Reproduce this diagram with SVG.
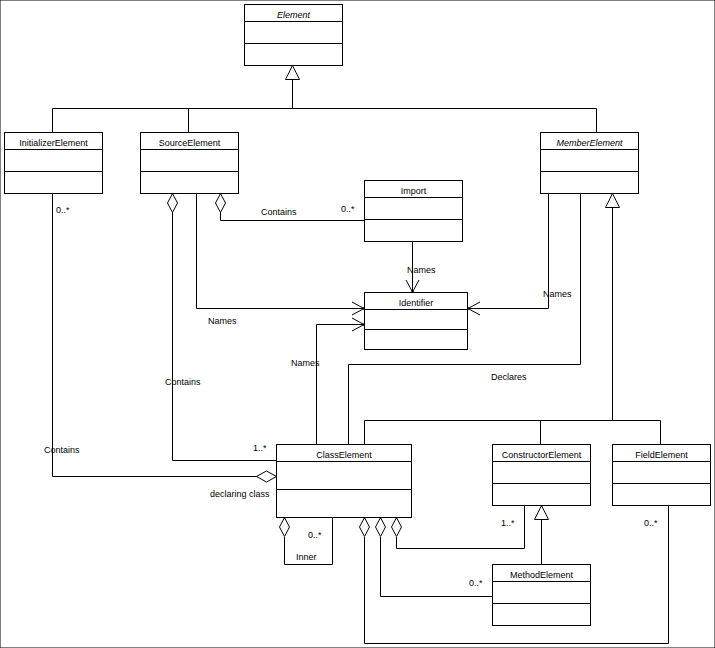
<svg xmlns="http://www.w3.org/2000/svg" width="715" height="648" viewBox="0 0 715 648">
<style>
rect{fill:#fff;stroke:#000;stroke-width:1}
line,path,polyline{fill:none;stroke:#000;stroke-width:1}
.d{fill:#fff;stroke:#000}
.dot{fill:#000;stroke:none}
text{font-family:"Liberation Sans",Arial,sans-serif;font-size:9px;fill:#000}
.n{text-anchor:middle}
.i{font-style:italic}
</style>
<rect width="715" height="648" fill="#fff" stroke="none"/>
<g id="connectors">
  <!-- generalization to Element -->
  <polyline points="292.5,79 292.5,108.5"/>
  <polyline points="52.5,132 52.5,108.5 596.5,108.5 596.5,132"/>
  <polyline points="188.5,108.5 188.5,132"/>
  <path class="d" d="M292.5,65.5 L299.5,79.5 L285.5,79.5 Z"/>
  <!-- generalization to MemberElement -->
  <polyline points="612.5,207 612.5,420.5"/>
  <polyline points="364.5,444 364.5,420.5 660.5,420.5 660.5,444"/>
  <polyline points="540.5,420.5 540.5,444"/>
  <path class="d" d="M612.5,193.5 L619.5,207.5 L605.5,207.5 Z"/>
  <!-- Method -> Constructor -->
  <polyline points="541.5,519 541.5,564"/>
  <path class="d" d="M541.5,505.5 L548.5,519.5 L534.5,519.5 Z"/>
  <!-- Initializer contains ClassElement -->
  <polyline points="52.5,193 52.5,476.5 257,476.5"/>
  <path class="d" d="M276.5,476.5 L266.5,471 L256.5,476.5 L266.5,482 Z"/>
  <!-- Source contains ClassElement -->
  <polyline points="172.5,212 172.5,460.5 276,460.5"/>
  <path class="d" d="M172.5,193.5 L177.5,203 L172.5,212.5 L167.5,203 Z"/>
  <!-- Source contains Import -->
  <polyline points="220.5,212 220.5,220.5 364,220.5"/>
  <path class="d" d="M220.5,193.5 L225.5,203 L220.5,212.5 L215.5,203 Z"/>
  <!-- Source names Identifier -->
  <polyline points="196.5,193 196.5,308.5 364,308.5"/>
  <path d="M364,308.5 L352,302 M364,308.5 L352,315"/>
  <circle class="dot" cx="364" cy="308.5" r="1.3"/>
  <!-- Import names Identifier -->
  <polyline points="412.5,241 412.5,292"/>
  <path d="M412.5,292 L406,280 M412.5,292 L419,280"/>
  <circle class="dot" cx="412.5" cy="292" r="1.3"/>
  <!-- MemberElement names Identifier -->
  <polyline points="548.5,193 548.5,308.5 468,308.5"/>
  <path d="M468,308.5 L480,302 M468,308.5 L480,315"/>
  <circle class="dot" cx="468" cy="308.5" r="1.3"/>
  <!-- ClassElement names Identifier -->
  <polyline points="316.5,444 316.5,324.5 364,324.5"/>
  <path d="M364,324.5 L352,318 M364,324.5 L352,331"/>
  <circle class="dot" cx="364" cy="324.5" r="1.3"/>
  <!-- Declares -->
  <polyline points="348.5,444 348.5,364.5 580.5,364.5 580.5,193"/>
  <!-- Inner -->
  <polyline points="284.5,537 284.5,564.5 332.5,564.5 332.5,517"/>
  <path class="d" d="M284.5,517.5 L289.5,527 L284.5,536.5 L279.5,527 Z"/>
  <!-- ClassElement aggregations -->
  <polyline points="396.5,537 396.5,548.5 524.5,548.5 524.5,505"/>
  <path class="d" d="M396.5,517.5 L401.5,527 L396.5,536.5 L391.5,527 Z"/>
  <polyline points="380.5,537 380.5,596.5 492,596.5"/>
  <path class="d" d="M380.5,517.5 L385.5,527 L380.5,536.5 L375.5,527 Z"/>
  <polyline points="364.5,537 364.5,643.5 668.5,643.5 668.5,505"/>
  <path class="d" d="M364.5,517.5 L369.5,527 L364.5,536.5 L359.5,527 Z"/>
  <!-- labels -->
  <text x="56" y="213">0..*</text>
  <text x="44" y="453">Contains</text>
  <text x="210" y="497">declaring class</text>
  <text x="165" y="385">Contains</text>
  <text x="253" y="451">1..*</text>
  <text x="261" y="215">Contains</text>
  <text x="341" y="212">0..*</text>
  <text x="208" y="324">Names</text>
  <text x="407" y="273">Names</text>
  <text x="543" y="297">Names</text>
  <text x="291" y="366">Names</text>
  <text x="491" y="380">Declares</text>
  <text x="308" y="538">0..*</text>
  <text x="296" y="560">Inner</text>
  <text x="501" y="526">1..*</text>
  <text x="469" y="586">0..*</text>
  <text x="644" y="526">0..*</text>
</g>
<g id="Element">
  <rect x="244.5" y="4.5" width="98" height="61"/>
  <line x1="244.5" y1="21.5" x2="342.5" y2="21.5"/>
  <line x1="244.5" y1="43.5" x2="342.5" y2="43.5"/>
  <text class="n i" x="293.5" y="18">Element</text>
</g>
<g id="InitializerElement">
  <rect x="4.5" y="132.5" width="98" height="61"/>
  <line x1="4.5" y1="149.5" x2="102.5" y2="149.5"/>
  <line x1="4.5" y1="171.5" x2="102.5" y2="171.5"/>
  <text class="n" x="53.5" y="146">InitializerElement</text>
</g>
<g id="SourceElement">
  <rect x="140.5" y="132.5" width="98" height="61"/>
  <line x1="140.5" y1="149.5" x2="238.5" y2="149.5"/>
  <line x1="140.5" y1="171.5" x2="238.5" y2="171.5"/>
  <text class="n" x="189.5" y="146">SourceElement</text>
</g>
<g id="MemberElement">
  <rect x="540.5" y="132.5" width="98" height="61"/>
  <line x1="540.5" y1="149.5" x2="638.5" y2="149.5"/>
  <line x1="540.5" y1="171.5" x2="638.5" y2="171.5"/>
  <text class="n i" x="589.5" y="146">MemberElement</text>
</g>
<g id="Import">
  <rect x="364.5" y="180.5" width="98" height="61"/>
  <line x1="364.5" y1="197.5" x2="462.5" y2="197.5"/>
  <line x1="364.5" y1="219.5" x2="462.5" y2="219.5"/>
  <text class="n" x="413.5" y="194">Import</text>
</g>
<g id="Identifier">
  <rect x="364.5" y="292.5" width="103" height="57"/>
  <line x1="364.5" y1="309.5" x2="467.5" y2="309.5"/>
  <line x1="364.5" y1="329.5" x2="467.5" y2="329.5"/>
  <text class="n" x="416" y="306">Identifier</text>
</g>
<g id="ClassElement">
  <rect x="276.5" y="444.5" width="135" height="73"/>
  <line x1="276.5" y1="461.5" x2="411.5" y2="461.5"/>
  <line x1="276.5" y1="489.5" x2="411.5" y2="489.5"/>
  <text class="n" x="344" y="458">ClassElement</text>
</g>
<g id="ConstructorElement">
  <rect x="492.5" y="444.5" width="98" height="61"/>
  <line x1="492.5" y1="461.5" x2="590.5" y2="461.5"/>
  <line x1="492.5" y1="483.5" x2="590.5" y2="483.5"/>
  <text class="n" x="541.5" y="458">ConstructorElement</text>
</g>
<g id="FieldElement">
  <rect x="612.5" y="444.5" width="98" height="61"/>
  <line x1="612.5" y1="461.5" x2="710.5" y2="461.5"/>
  <line x1="612.5" y1="483.5" x2="710.5" y2="483.5"/>
  <text class="n" x="661.5" y="458">FieldElement</text>
</g>
<g id="MethodElement">
  <rect x="492.5" y="564.5" width="98" height="61"/>
  <line x1="492.5" y1="581.5" x2="590.5" y2="581.5"/>
  <line x1="492.5" y1="603.5" x2="590.5" y2="603.5"/>
  <text class="n" x="541.5" y="578">MethodElement</text>
</g>
</svg>
